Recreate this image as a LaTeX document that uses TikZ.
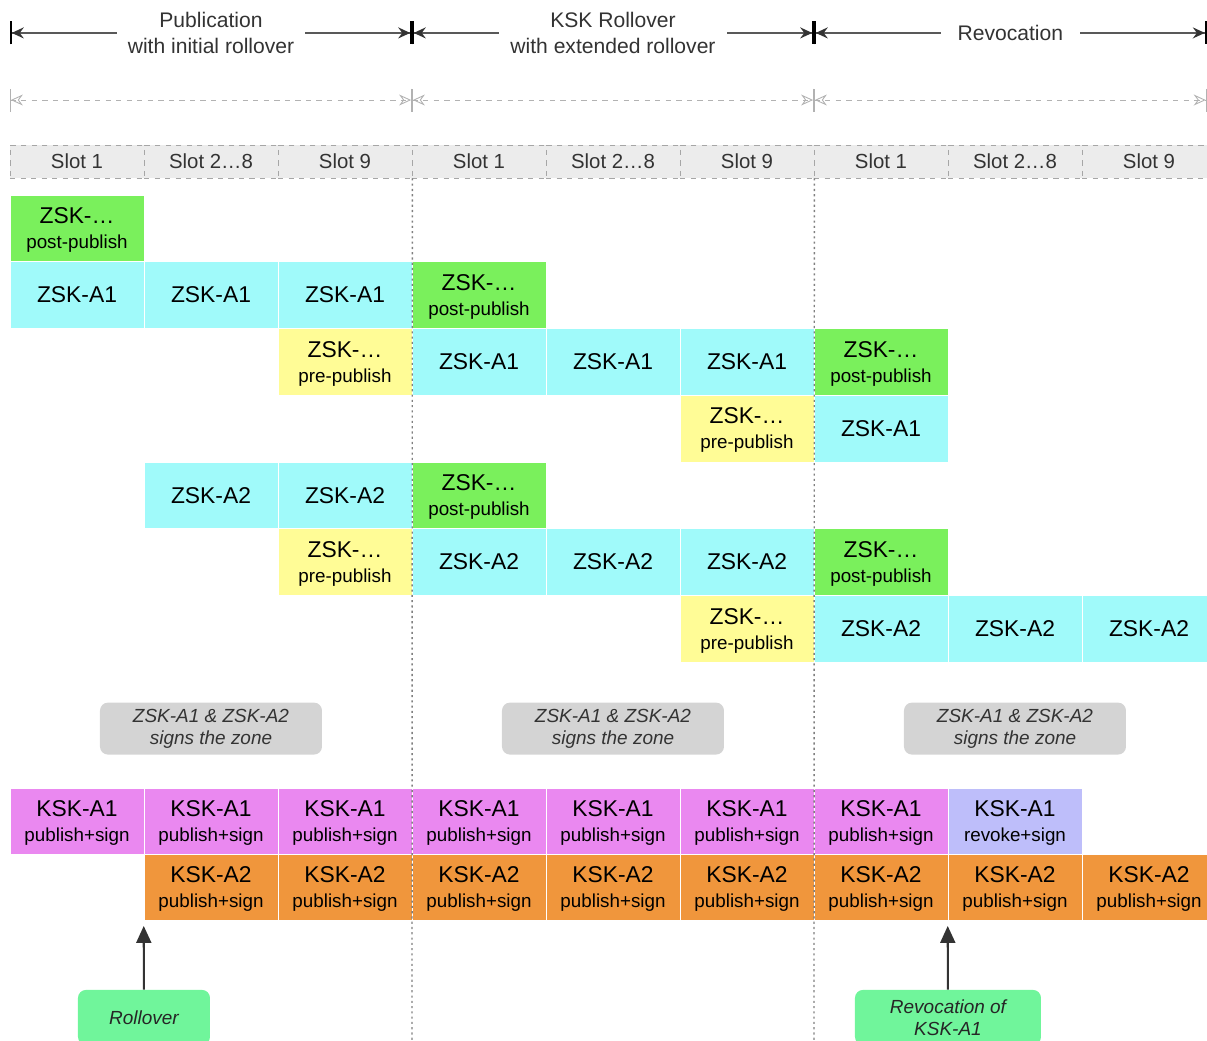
\documentclass[tikz,border=0pt]{standalone}
\usepackage{fontspec}
\setmainfont{Liberation Sans}
\usetikzlibrary{arrows.meta,positioning}
\definecolor{postgreen}{RGB}{122,240,92}
\definecolor{keycyan}{RGB}{160,250,250}
\definecolor{preyellow}{RGB}{255,252,150}
\definecolor{kskpink}{RGB}{234,136,240}
\definecolor{revlav}{RGB}{190,190,250}
\definecolor{kskorange}{RGB}{240,150,60}
\definecolor{notegray}{RGB}{212,212,212}
\definecolor{eventgreen}{RGB}{112,245,155}
\definecolor{slotgray}{RGB}{236,236,236}
\newcommand{\subtxt}[1]{{\fontsize{10.7}{14.2}\selectfont #1}}
\tikzset{cell/.style={draw=white,line width=0.3pt,minimum width=2.68cm,minimum height=1.334cm,inner sep=0pt,align=center,font=\fontsize{13}{14.2}\selectfont},
  twoline/.style={text depth=-0.8mm},
  zsk/.style={cell,fill=keycyan},
  post/.style={cell,twoline,fill=postgreen},
  pre/.style={cell,twoline,fill=preyellow},
  ksk/.style={cell,twoline,fill=kskpink},
  kskrev/.style={cell,twoline,fill=revlav},
  ksknew/.style={cell,twoline,fill=kskorange},
  slot/.style={draw=black!35,dashed,fill=slotgray,minimum width=2.68cm,minimum height=0.66cm,inner sep=0pt,font=\fontsize{11.6}{13}\selectfont,text=black!80},
  note/.style={fill=notegray,rounded corners=1.6mm,minimum width=4.44cm,minimum height=1.04cm,align=center,inner sep=1pt,font=\fontsize{10.8}{12.5}\selectfont\itshape,text=black!80},
  event/.style={fill=eventgreen,rounded corners=1.6mm,minimum height=1.1cm,align=center,inner sep=1pt,font=\fontsize{10.8}{12.5}\selectfont\itshape,text=black!85},
  dim/.style={{Bar[width=4.6mm,black]Stealth[length=2.4mm,width=2.2mm,inset=0.8mm,black!80]}-{Stealth[length=2.4mm,width=2.2mm,inset=0.8mm,black!80]Bar[width=4.6mm,black]},line width=1pt,black!65},
  subdim/.style={{Bar[width=4.6mm]Stealth[length=2.4mm,width=2.2mm,inset=0.8mm,open]}-{Stealth[length=2.4mm,width=2.2mm,inset=0.8mm,open]Bar[width=4.6mm]},dashed,line width=0.5pt,black!30},
  dimlabel/.style={fill=white,inner xsep=2.2mm,inner ysep=0pt,align=center,font=\fontsize{12}{14.8}\selectfont,text=black!80},
  guide/.style={black!50,line width=0.8pt,dash pattern=on 1.2pt off 1.8pt},
  arr/.style={-{Triangle[length=3.4mm,width=3mm]},line width=1.2pt,black!80}}
\begin{document}
\begin{tikzpicture}[x=2.68cm,y=-1.334cm]
\useasboundingbox (-0.0746,-2.9235) rectangle (8.933,12.669);
% phases
\foreach \i/\x in {0/0,1/3,2/6,3/8.93}{
  \coordinate (p\i) at (\x,-2.43);
  \coordinate (q\i) at (\x,-1.424);}
\draw[dim] (p0) -- node[dimlabel] (ph1) {Publication\\with initial rollover} (p1);
\draw[dim] (p1) -- node[dimlabel] (ph2) {KSK Rollover\\with extended rollover} (p2);
\draw[dim] (p2) -- node[dimlabel,inner xsep=3.4mm] (ph3) {Revocation} (p3);
\foreach \a/\b in {q0/q1,q1/q2,q2/q3}{\draw[subdim] (\a)--(\b);}
% slots
\foreach \c/\t in {1/Slot 1,2/Slot 2…8,3/Slot 9,4/Slot 1,5/Slot 2…8,6/Slot 9,7/Slot 1,8/Slot 2…8,9/Slot 9}
  \node[slot] (s\c) at (\c-0.5,-0.502) {\t};
% ZSK states
\foreach \c/\r in {1/1,4/2,7/3,4/5,7/6}
  \node[post] (post\c-\r) at (\c-0.5,\r-0.5) {ZSK-…\\\subtxt{post-publish}};
\foreach \c/\r in {3/3,6/4,3/6,6/7}
  \node[pre] (pre\c-\r) at (\c-0.5,\r-0.5) {ZSK-…\\\subtxt{pre-publish}};
\foreach \c/\r/\k in {1/2/A1,2/2/A1,3/2/A1,4/3/A1,5/3/A1,6/3/A1,7/4/A1,2/5/A2,3/5/A2,4/6/A2,5/6/A2,6/6/A2,7/7/A2,8/7/A2,9/7/A2}
  \node[zsk] (zsk\k-\c-\r) at (\c-0.5,\r-0.5) {ZSK-\k};
\foreach \x/\n in {1.5/1,4.5/2,7.5/3}
  \node[note] (sign\n) at (\x,8) {ZSK-A1 \& ZSK-A2\\signs the zone};
% KSK states
\foreach \c in {1,...,7}
  \node[ksk] (kskA1-\c) at (\c-0.5,9.39) {KSK-A1\\\subtxt{publish+sign}};
\node[kskrev] (kskA1-8) at (7.5,9.39) {KSK-A1\\\subtxt{revoke+sign}};
\foreach \c in {2,...,9}
  \node[ksknew] (kskA2-\c) at (\c-0.5,10.38) {KSK-A2\\\subtxt{publish+sign}};
% phase borders
\draw[guide] (s3.south east) -- (3,12.7);
\draw[guide] (s6.south east) -- (6,12.7);
% events
\node[event,minimum width=2.64cm] (roll) at (1,12.33) {Rollover};
\node[event,minimum width=3.72cm] (revoke) at (7,12.33) {Revocation of\\KSK-A1};
\draw[arr,shorten >=1mm] (roll) -- (kskA2-2.south west);
\draw[arr,shorten >=1mm] (revoke) -- (kskA2-8.south west);
\end{tikzpicture}
\end{document}
